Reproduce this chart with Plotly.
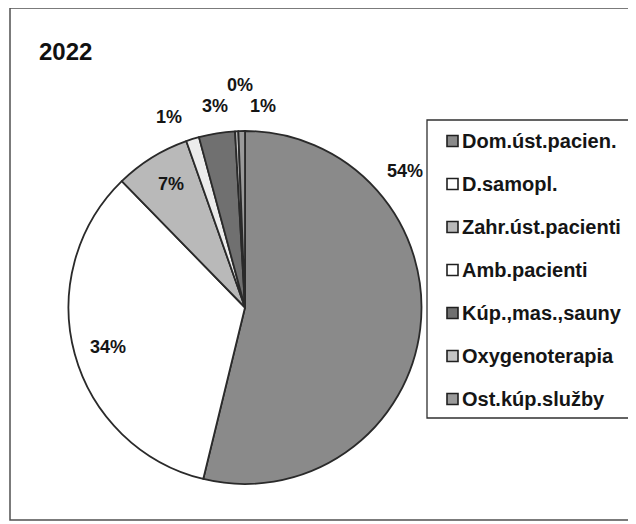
import plotly.graph_objects as go

# ---- data ----
title_text = "2022"
categories = ["Dom.úst.pacien.", "D.samopl.", "Zahr.úst.pacienti", "Amb.pacienti",
              "Kúp.,mas.,sauny", "Oxygenoterapia", "Ost.kúp.služby"]
values = [53.8, 33.9, 6.9, 1.2, 3.3, 0.3, 0.6]

# ---- style ----
slice_colors = ["#8a8a8a", "#ffffff", "#b9b9b9", "#ececec", "#707070", "#c4c4c4", "#9a9a9a"]
legend_marker_colors = ["#8a8a8a", "#ffffff", "#b9b9b9", "#ffffff", "#707070", "#c4c4c4", "#9a9a9a"]
label_px = [(405, 171), (108, 347), (171, 184), (169, 117), (215, 106), (240, 85), (263, 106)]

# the page body adds an 8px offset; work in screenshot coordinates
OFF = 8
W, H = 636 - OFF, 524 - OFF
FONT = "Liberation Sans, Arial, sans-serif"


def px(x):
    return (x - OFF) / W


def py(y):
    return 1 - (y - OFF) / H


def open_box(x0, y0, x1, y1):
    # top, left and bottom edges; the right edge runs off the page
    return (f"M {px(x1)},{py(y0)} L {px(x0)},{py(y0)} "
            f"L {px(x0)},{py(y1)} L {px(x1)},{py(y1)}")


fig = go.Figure()
fig.add_trace(go.Pie(
    labels=categories,
    values=values,
    sort=False,
    direction="clockwise",
    rotation=0,
    textinfo="none",
    hoverinfo="label+percent",
    marker=dict(colors=slice_colors, line=dict(color="#2a2a2a", width=1.8)),
    domain=dict(x=[px(68), px(422)], y=[py(484), py(131)]),
    showlegend=False,
))

total = sum(values)
annotations = []
for v, (lx, ly) in zip(values, label_px):
    annotations.append(dict(
        x=px(lx), y=py(ly), xref="paper", yref="paper",
        text=f"{round(100 * v / total):d}%", showarrow=False,
        xanchor="center", yanchor="middle",
        font=dict(family=FONT, size=18, color="#151515", weight="bold"),
    ))

# title
annotations.append(dict(
    x=px(37), y=py(51), xref="paper", yref="paper", text=title_text,
    showarrow=False, xanchor="left", yanchor="middle",
    font=dict(family=FONT, size=24, color="#111111", weight="bold"),
))

shapes = [
    # outer chart frame
    dict(type="path", xref="paper", yref="paper", path=open_box(10, 8, 636, 520),
         line=dict(color="#505050", width=1.5), layer="below"),
    # legend box
    dict(type="path", xref="paper", yref="paper", path=open_box(427, 120, 636, 418),
         line=dict(color="#303030", width=1.3)),
]

row0, step = 141, 43.0
for i, (name, col) in enumerate(zip(categories, legend_marker_colors)):
    yc = row0 + i * step
    shapes.append(dict(type="rect", xref="paper", yref="paper",
                       x0=px(447), x1=px(458), y0=py(yc + 5.5), y1=py(yc - 5.5),
                       line=dict(color="#202020", width=1.6), fillcolor=col))
    annotations.append(dict(
        x=px(460), y=py(yc), xref="paper", yref="paper", text=name,
        showarrow=False, xanchor="left", yanchor="middle",
        font=dict(family=FONT, size=20, color="#151515", weight="bold"),
    ))

fig.update_layout(
    width=W, height=H,
    margin=dict(l=0, r=0, t=0, b=0),
    paper_bgcolor="white",
    plot_bgcolor="white",
    annotations=annotations,
    shapes=shapes,
    showlegend=False,
)

fig.write_html("out.html")
